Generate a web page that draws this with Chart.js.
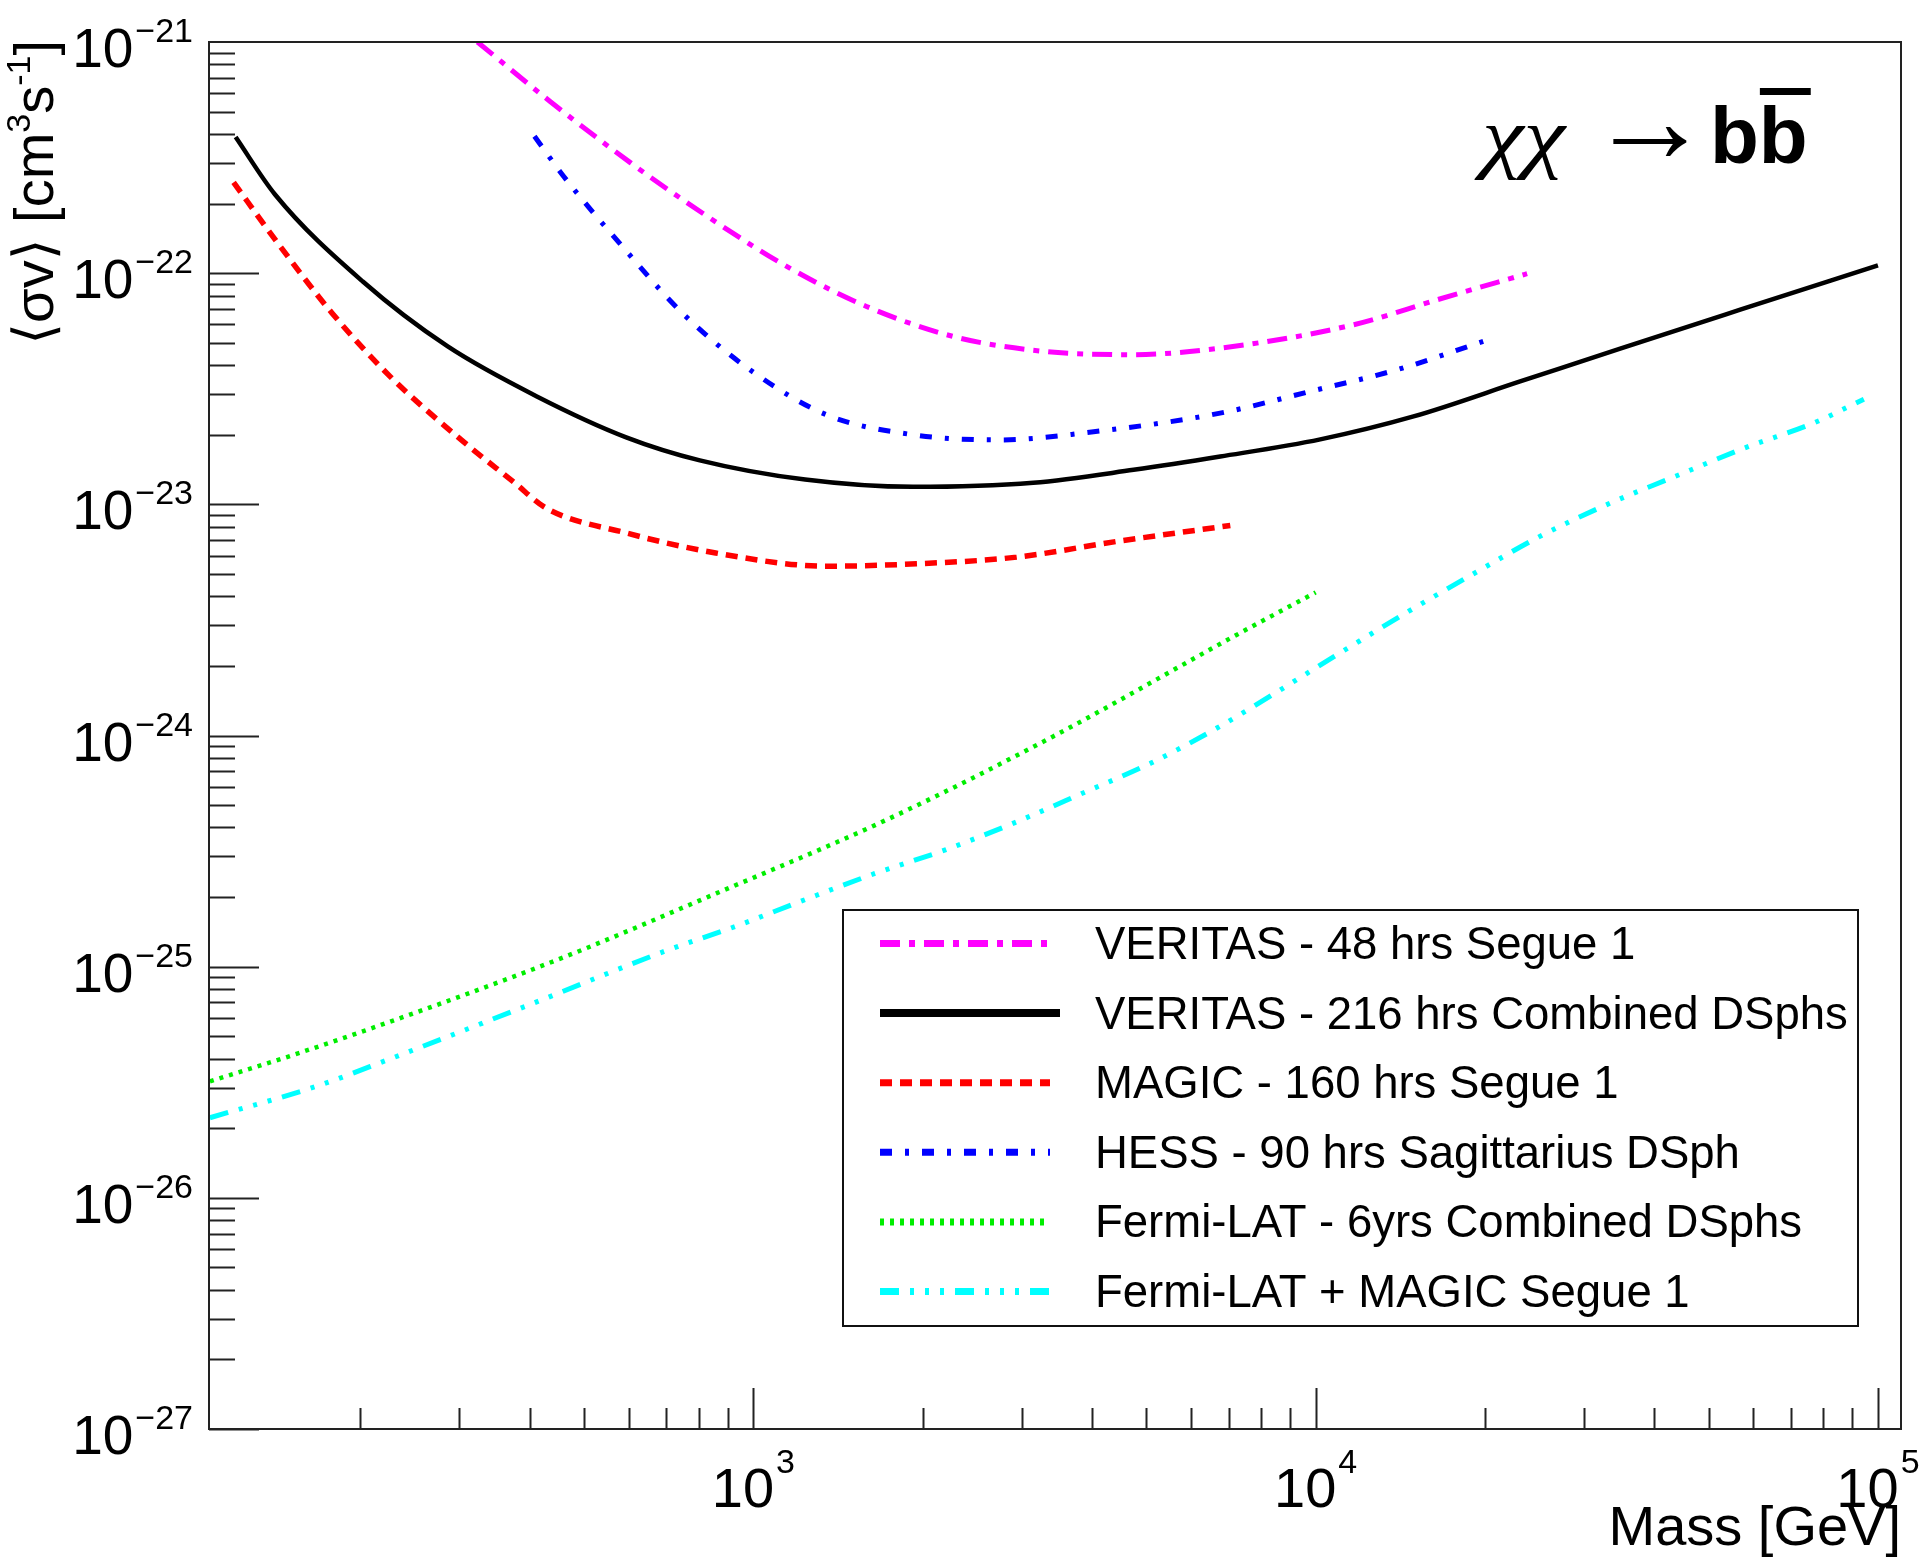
<!DOCTYPE html>
<html><head><meta charset="utf-8">
<script src="https://cdn.jsdelivr.net/npm/chart.js@4.4.1/dist/chart.umd.min.js"></script>
<style>html,body{margin:0;padding:0;background:#fff;}canvas{display:block;}</style>
</head><body>
<canvas id="c" width="1920" height="1559"></canvas>
<script>
// ---- data ----
const massVeritas48  = [323, 435, 605, 820, 1146, 1589, 2269, 3281, 4744, 6761, 11670, 16440, 23770];
const sigmaVeritas48 = [1.0e-21, 5.53e-22, 3.0e-22, 1.79e-22, 1.07e-22, 7.18e-23, 5.32e-23, 4.59e-23, 4.44e-23, 4.74e-23, 5.98e-23, 7.67e-23, 9.95e-23];

const massVeritas216  = [120, 141, 202, 286, 412, 594, 803, 1236, 1923, 3146, 4744, 6765, 10190, 14930, 23100, 34800, 56900, 100000];
const sigmaVeritas216 = [3.88e-22, 2.19e-22, 9.2e-23, 4.82e-23, 2.93e-23, 1.95e-23, 1.55e-23, 1.28e-23, 1.19e-23, 1.24e-23, 1.41e-23, 1.61e-23, 1.91e-23, 2.40e-23, 3.40e-23, 4.72e-23, 6.95e-23, 1.08e-22];

const massMagic  = [119, 141, 178, 226, 297, 376, 428, 594, 857, 1352, 1950, 2940, 4430, 7050];
const sigmaMagic = [2.47e-22, 1.40e-22, 6.73e-23, 3.57e-23, 1.97e-23, 1.24e-23, 9.63e-24, 7.52e-24, 6.16e-24, 5.40e-24, 5.53e-24, 5.91e-24, 6.91e-24, 8.1e-24];

const massHess  = [408, 460, 584, 747, 986, 1349, 1923, 2749, 4027, 6761, 9780, 13940, 19890];
const sigmaHess = [3.91e-22, 2.62e-22, 1.31e-22, 6.73e-23, 3.82e-23, 2.44e-23, 2.0e-23, 1.90e-23, 2.06e-23, 2.48e-23, 3.08e-23, 3.82e-23, 5.07e-23];

const massFermi  = [108, 156, 269, 465, 861, 1726, 3413, 7244, 10000];
const sigmaFermi = [3.19e-26, 4.24e-26, 6.73e-26, 1.11e-25, 2.08e-25, 4.32e-25, 9.91e-25, 2.73e-24, 4.16e-24];

const massFermiMagic  = [108, 168, 224, 400, 698, 927, 1236, 1645, 2201, 2910, 3857, 5094, 6686, 11220, 14620, 19090, 24950, 32880, 43550, 57830, 76920, 94400];
const sigmaFermiMagic = [2.22e-26, 3.05e-26, 3.96e-26, 6.85e-26, 1.17e-25, 1.49e-25, 1.95e-25, 2.53e-25, 3.21e-25, 4.19e-25, 5.64e-25, 7.60e-25, 1.08e-24, 2.33e-24, 3.44e-24, 5.01e-24, 7.23e-24, 9.95e-24, 1.32e-23, 1.75e-23, 2.25e-23, 2.85e-23];

const seriesLabels = [
  'VERITAS - 48 hrs Segue 1',
  'VERITAS - 216 hrs Combined DSphs',
  'MAGIC - 160 hrs Segue 1',
  'HESS - 90 hrs Sagittarius DSph',
  'Fermi-LAT - 6yrs Combined DSphs',
  'Fermi-LAT + MAGIC Segue 1'
];
const yTickExponents = [-27, -26, -25, -24, -23, -22, -21];
const xTickExponents = [3, 4, 5];
const xAxisTitle = 'Mass [GeV]';

// ---- styling ----
const FONT = '"Liberation Sans", Arial, "DejaVu Sans", sans-serif';
const seriesStyles = [
  {color:'#ff00ff', width:5,   dash:[20, 9, 6, 9]},
  {color:'#000000', width:4.5, dash:[]},
  {color:'#ff0000', width:5.5, dash:[12, 8]},
  {color:'#0000ff', width:5,   dash:[12, 13, 4, 13]},
  {color:'#00ee00', width:4.5, dash:[4, 6]},
  {color:'#00ffff', width:5,   dash:[19, 11, 4, 11, 4, 11, 4, 11]}
];
const seriesData = [
  [massVeritas48, sigmaVeritas48],
  [massVeritas216, sigmaVeritas216],
  [massMagic, sigmaMagic],
  [massHess, sigmaHess],
  [massFermi, sigmaFermi],
  [massFermiMagic, sigmaFermiMagic]
];
function pts(xs, ys){ return xs.map((x,i)=>({x:x, y:ys[i]})); }

const datasets = seriesData.map((d,i)=>({
  label: seriesLabels[i],
  data: pts(d[0], d[1]),
  borderColor: seriesStyles[i].color,
  borderWidth: seriesStyles[i].width,
  borderDash: seriesStyles[i].dash,
  pointRadius: 0,
  fill: false,
  cubicInterpolationMode: 'monotone'
}));

function drawPow(ctx, exp, x, baseY, supOffset, baseSize, supSize, align){
  ctx.font = baseSize + 'px ' + FONT;
  const w10 = ctx.measureText('10').width;
  const supTxt = exp < 0 ? '\u2212' + Math.abs(exp) : String(exp);
  ctx.font = supSize + 'px ' + FONT;
  const ws = ctx.measureText(supTxt).width;
  const total = w10 + 2 + ws;
  let x0 = align === 'right' ? x - total : x - total/2;
  ctx.textAlign = 'left';
  ctx.textBaseline = 'alphabetic';
  ctx.font = baseSize + 'px ' + FONT;
  ctx.fillText('10', x0, baseY);
  ctx.font = supSize + 'px ' + FONT;
  ctx.fillText(supTxt, x0 + w10 + 2, baseY - supOffset);
}

const decor = {
  id: 'decor',
  afterDatasetsDraw(chart){
    const ctx = chart.ctx, a = chart.chartArea, xs = chart.scales.x, ys = chart.scales.y;
    ctx.save();
    ctx.fillStyle = '#000';
    ctx.strokeStyle = '#222';
    ctx.lineWidth = 2;
    ctx.setLineDash([]);
    // frame
    ctx.strokeRect(a.left, a.top, a.right - a.left, a.bottom - a.top);
    // ticks
    ctx.beginPath();
    for (let e = -27; e < -21; e++) {
      for (let k = 1; k <= 9; k++) {
        const p = Math.round(ys.getPixelForValue(k * Math.pow(10, e))) + 0.5;
        const len = k === 1 ? 50 : 26;
        ctx.moveTo(a.left, p); ctx.lineTo(a.left + len, p);
      }
    }
    for (let e = 2; e <= 5; e++) {
      for (let k = 1; k <= 9; k++) {
        const v = k * Math.pow(10, e);
        if (v < xs.min || v > xs.max) continue;
        const p = Math.round(xs.getPixelForValue(v)) + 0.5;
        const len = k === 1 ? 41 : 21;
        ctx.moveTo(p, a.bottom); ctx.lineTo(p, a.bottom - len);
      }
    }
    ctx.stroke();

    // y tick labels
    ctx.fillStyle = '#000';
    yTickExponents.forEach(e => {
      const p = ys.getPixelForValue(Math.pow(10, e));
      drawPow(ctx, e, 193, p + 25, 25, 55, 34, 'right');
    });
    // x tick labels
    xTickExponents.forEach(e => {
      const p = xs.getPixelForValue(Math.pow(10, e));
      drawPow(ctx, e, p, 1507, 34, 56, 34, 'center');
    });
    // x title
    ctx.font = '56px ' + FONT;
    ctx.textAlign = 'right';
    ctx.fillText(xAxisTitle, 1901, 1545);

    // y title (rotated)
    ctx.save();
    ctx.translate(53, 40);
    ctx.rotate(-Math.PI/2);
    const parts = [
      {t:'\u27E8\u03C3v\u27E9 [cm', s:56, dy:0},
      {t:'3', s:34, dy:-23},
      {t:'s', s:56, dy:0},
      {t:'-1', s:34, dy:-23},
      {t:']', s:56, dy:0}
    ];
    let total = 0;
    parts.forEach(p => { ctx.font = p.s + 'px ' + FONT; p.w = ctx.measureText(p.t).width; total += p.w; });
    let xx = -total;
    ctx.textAlign = 'left';
    parts.forEach(p => { ctx.font = p.s + 'px ' + FONT; ctx.fillText(p.t, xx, p.dy); xx += p.w; });
    ctx.restore();

    // process title  χχ → b b̄
    ctx.textAlign = 'left';
    ctx.save();
    ctx.translate(1482, 163);
    ctx.scale(1.18, 1);
    ctx.font = 'italic 80px "Liberation Serif", "DejaVu Serif", serif';
    ctx.fillText('\u03C7\u03C7', 0, 0);
    ctx.restore();
    // thin arrow, ink fitted to 1613..1687, centred at y=141
    ctx.font = '100px ' + FONT;
    const am = ctx.measureText('\u2192');
    const inkW = am.actualBoundingBoxLeft + am.actualBoundingBoxRight;
    const inkH = am.actualBoundingBoxAscent + am.actualBoundingBoxDescent;
    const sc = 74 / inkW;
    const sizeA = 100 * sc;
    ctx.font = sizeA + 'px ' + FONT;
    const ax = 1613 + am.actualBoundingBoxLeft * sc;
    const ay = 141 + (am.actualBoundingBoxAscent - am.actualBoundingBoxDescent) * sc / 2;
    ctx.fillText('\u2192', ax, ay);
    ctx.font = 'bold 80px ' + FONT;
    const bw = ctx.measureText('b').width;
    ctx.fillText('bb', 1710, 163);
    ctx.fillRect(1710 + bw + 1, 88, bw + 2, 7);

    // legend
    const L = {x:843, y:910, w:1015, h:416};
    ctx.fillStyle = '#fff';
    ctx.fillRect(L.x, L.y, L.w, L.h);
    ctx.strokeStyle = '#111';
    ctx.lineWidth = 2;
    ctx.strokeRect(L.x, L.y, L.w, L.h);
    chart.data.datasets.forEach((ds, i) => {
      const cy = 943.5 + i * 69.6;
      ctx.save();
      ctx.strokeStyle = ds.borderColor;
      ctx.lineWidth = i === 1 ? 8 : 7;
      ctx.lineCap = 'butt';
      ctx.setLineDash(ds.borderDash || []);
      ctx.beginPath();
      ctx.moveTo(880, cy);
      ctx.lineTo(i === 1 ? 1060 : 1050, cy);
      ctx.stroke();
      ctx.restore();
      ctx.fillStyle = '#000';
      ctx.font = '45.5px ' + FONT;
      ctx.textAlign = 'left';
      ctx.fillText(ds.label, 1095, cy + 15.5);
    });
    ctx.restore();
  }
};

new Chart(document.getElementById('c'), {
  type: 'line',
  data: { datasets: datasets },
  options: {
    responsive: false,
    animation: false,
    devicePixelRatio: 1,
    layout: { padding: { top: 42, right: 19, left: 0, bottom: 0 } },
    plugins: { legend: { display: false }, tooltip: { enabled: false } },
    scales: {
      x: { type: 'logarithmic', min: 107.6, max: 109900,
           ticks: { display: false }, grid: { display: false }, border: { display: false },
           afterFit(s){ s.height = 130; } },
      y: { type: 'logarithmic', min: 1e-27, max: 1e-21,
           ticks: { display: false }, grid: { display: false }, border: { display: false },
           afterFit(s){ s.width = 209; } }
    }
  },
  plugins: [decor]
});
</script>
</body></html>
